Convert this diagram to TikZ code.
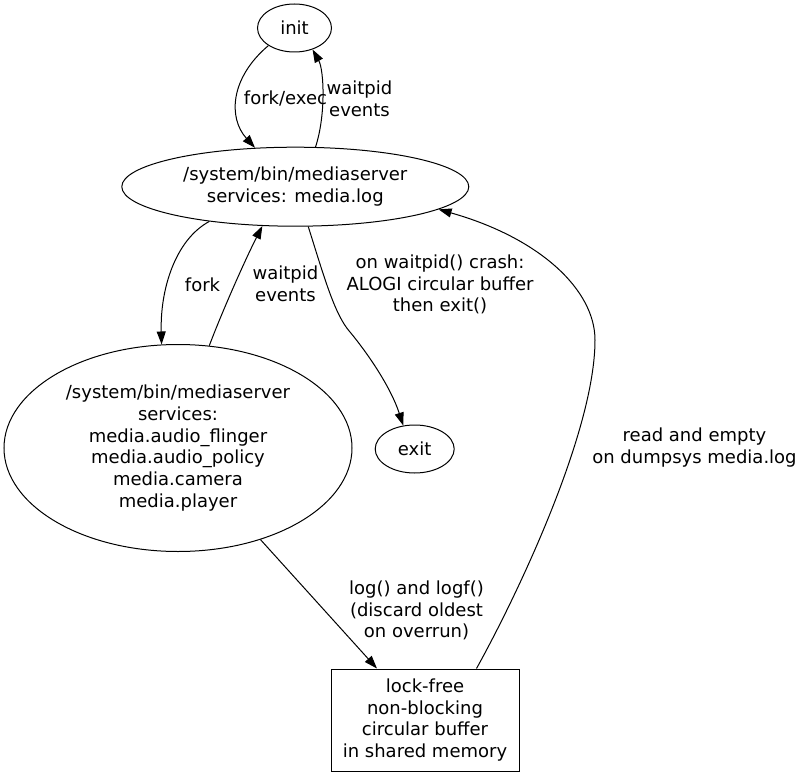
\documentclass[tikz,border=0pt]{standalone}
\usepackage{fontspec}
\setmainfont{DejaVu Sans}
\usetikzlibrary{shapes.geometric,arrows.meta}

\begin{document}
\begin{tikzpicture}[x=1pt,y=-1pt,
  every node/.style={font=\fontsize{18}{21.7}\selectfont, align=center, inner sep=0pt},
  state/.style={draw, ellipse, line width=1pt},
  store/.style={draw, rectangle, line width=1pt},
  flow/.style={line width=1pt, -{Triangle[length=13pt,width=9pt]}}]

  \useasboundingbox (0,0) rectangle (801,776);

  %% processes
  \node[state, minimum width=74pt, minimum height=48pt] (init) at (294.5,28) {init};
  \node[state, minimum width=347pt, minimum height=79pt] (logsrv) at (295.3,186.7)
  {/system/bin/mediaserver\\services: media.log};
  \node[state, minimum width=348pt, minimum height=207pt] (mediasrv) at (178,448)
  {/system/bin/mediaserver\\services:\\media.audio\_flinger\\media.audio\_policy\\media.camera\\media.player};
  \node[state, minimum width=79pt, minimum height=48pt] (exit) at (414.7,449) {exit};

  %% shared memory
  \node[store, minimum width=188pt, minimum height=102pt] (buffer) at (425,720)
  {lock-free\\non-blocking\\circular buffer\\in shared memory};

  %% init <-> media.log
  \draw[flow] (init.214.8) .. controls (230,78) and (228,118) .. (logsrv.136);
  \draw[flow] (logsrv.63.8) .. controls (326,115) and (324,70) .. (init.310.3);
  \node (lforkexec) at (285.5,98) {fork/exec};
  \node (lwaitinit) at (359.5,99) {waitpid\\events};

  %% media.log <-> mediaserver
  \draw[flow] (logsrv.202.3) .. controls (175,240) and (160,290) .. (mediasrv.99.8);
  \draw[flow] (mediasrv.73.6) .. controls (222,312) and (245,260) .. (logsrv.230.1);
  \node (lfork) at (202.5,285) {fork};
  \node (lwaitsrv) at (285.5,284) {waitpid\\events};

  %% crash
  \draw[flow] (logsrv.288) .. controls (325,280) and (335,315) .. (350,332)
  .. controls (365,350) and (390,385) .. (exit.116);
  \node (lcrash) at (440,284.5) {on waitpid() crash:\\ALOGI circular buffer\\then exit()};

  %% buffer
  \draw[flow] (mediasrv.312.3) -- (buffer.133.4);
  \node (llog) at (416.5,610.5) {log() and logf()\\(discard oldest\\on overrun)};
  \draw[flow] (buffer.45.6) .. controls (520,590) and (595,430) .. (595,340)
  .. controls (595,290) and (540,238) .. (logsrv.351.4);
  \node (lread) at (694.5,447.5) {read and empty\\on dumpsys media.log};

\end{tikzpicture}
\end{document}
